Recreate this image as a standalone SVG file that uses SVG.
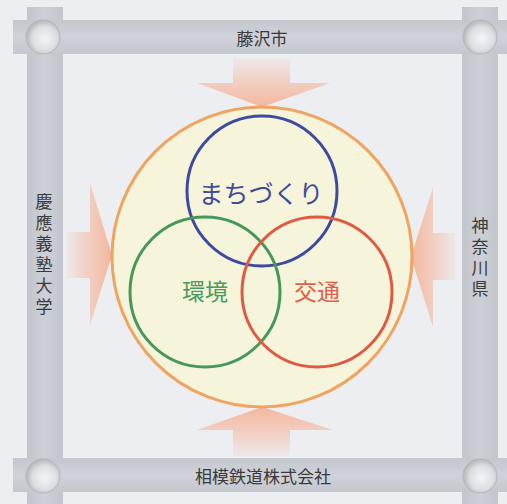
<svg xmlns="http://www.w3.org/2000/svg" width="507" height="504" viewBox="0 0 507 504">
<defs>
<linearGradient id="vbar" x1="0" y1="0" x2="1" y2="0">
<stop offset="0" stop-color="#c2c5cc"/><stop offset="0.5" stop-color="#cdd0d6"/><stop offset="1" stop-color="#c2c5cc"/>
</linearGradient>
<linearGradient id="hbar" x1="0" y1="0" x2="0" y2="1">
<stop offset="0" stop-color="#c4c7ce"/><stop offset="0.5" stop-color="#cfd2d8"/><stop offset="1" stop-color="#c4c7ce"/>
</linearGradient>
<radialGradient id="ball" cx="0.55" cy="0.55" r="0.6">
<stop offset="0" stop-color="#f4f5f7"/><stop offset="0.6" stop-color="#dcdee2"/><stop offset="1" stop-color="#a9acb2"/>
</radialGradient>
<linearGradient id="arrDown" x1="0" y1="0" x2="0" y2="1">
<stop offset="0" stop-color="#f6b9a0" stop-opacity="0.1"/><stop offset="0.5" stop-color="#f6b9a0" stop-opacity="0.6"/><stop offset="1" stop-color="#f5b096" stop-opacity="0.9"/>
</linearGradient>
<linearGradient id="arrUp" x1="0" y1="1" x2="0" y2="0">
<stop offset="0" stop-color="#f6b9a0" stop-opacity="0.1"/><stop offset="0.5" stop-color="#f6b9a0" stop-opacity="0.6"/><stop offset="1" stop-color="#f5b096" stop-opacity="0.9"/>
</linearGradient>
<linearGradient id="arrRight" x1="0" y1="0" x2="1" y2="0">
<stop offset="0" stop-color="#f6b9a0" stop-opacity="0.1"/><stop offset="0.5" stop-color="#f6b9a0" stop-opacity="0.6"/><stop offset="1" stop-color="#f5b096" stop-opacity="0.9"/>
</linearGradient>
<linearGradient id="arrLeft" x1="1" y1="0" x2="0" y2="0">
<stop offset="0" stop-color="#f6b9a0" stop-opacity="0.1"/><stop offset="0.5" stop-color="#f6b9a0" stop-opacity="0.6"/><stop offset="1" stop-color="#f5b096" stop-opacity="0.9"/>
</linearGradient>
</defs>
<style>
.lbl{font-family:"Noto Sans CJK JP","Noto Sans",sans-serif;fill:#3a3a3a;font-size:17px;text-anchor:middle;dominant-baseline:central}
.vlbl{font-family:"Noto Sans CJK JP","Noto Sans",sans-serif;fill:#3a3a3a;font-size:17px;writing-mode:vertical-rl;letter-spacing:4px}
.ball{fill:url(#ball);stroke:#b4b7bd;stroke-width:1}
.venn{fill:none;stroke-width:3}
.vt{font-family:"Noto Sans CJK JP","Noto Sans",sans-serif;text-anchor:middle;dominant-baseline:central}
</style>
<rect width="507" height="504" fill="#eceef2"/>
<g id="frame">
<rect x="27" y="7" width="36" height="497" fill="url(#vbar)"/>
<rect x="462" y="7" width="36" height="497" fill="url(#vbar)"/>
<rect x="13" y="20" width="494" height="34" fill="url(#hbar)"/>
<rect x="13" y="458" width="494" height="34" fill="url(#hbar)"/>
<circle class="ball" cx="43" cy="37" r="17"/>
<circle class="ball" cx="480" cy="37" r="17"/>
<circle class="ball" cx="43" cy="476" r="17"/>
<circle class="ball" cx="480" cy="476" r="17"/>
</g>
<g id="connectors">
<polygon points="233,58 290,58 290,83 330,83 262,107 197,83 233,83" fill="url(#arrDown)"/>
<polygon points="233,456 290,456 290,430 333,430 262,407 197,430 233,430" fill="url(#arrUp)"/>
<polygon points="66,232 90,232 90,183 112,255 90,325 90,278 66,278" fill="url(#arrRight)"/>
<polygon points="455,233 433,233 433,187 411,257 433,327 433,280 455,280" fill="url(#arrLeft)"/>
</g>
<g id="fujisawa"><text class="lbl" x="262" y="37">藤沢市</text></g>
<g id="sotetsu"><text class="lbl" x="263" y="475">相模鉄道株式会社</text></g>
<g id="keio"><text class="vlbl" x="44" y="193">慶應義塾大学</text></g>
<g id="kanagawa"><text class="vlbl" x="480" y="217">神奈川県</text></g>
<g id="outer"><circle cx="262" cy="257" r="150" fill="#f6f4da" stroke="#f0a462" stroke-width="3"/></g>
<g id="machidukuri">
<circle class="venn" cx="262" cy="191" r="75" stroke="#3c4aa2"/>
<text class="vt" x="261" y="192" font-size="25" fill="#3f4b9c">まちづくり</text>
</g>
<g id="kankyo">
<circle class="venn" cx="205" cy="292" r="75" stroke="#46985a"/>
<text class="vt" x="205" y="290" font-size="23" fill="#4c9a5c">環境</text>
</g>
<g id="kotsu">
<circle class="venn" cx="317" cy="292" r="75" stroke="#e05a42"/>
<text class="vt" x="317" y="290" font-size="23" fill="#e0604c">交通</text>
</g>
</svg>
